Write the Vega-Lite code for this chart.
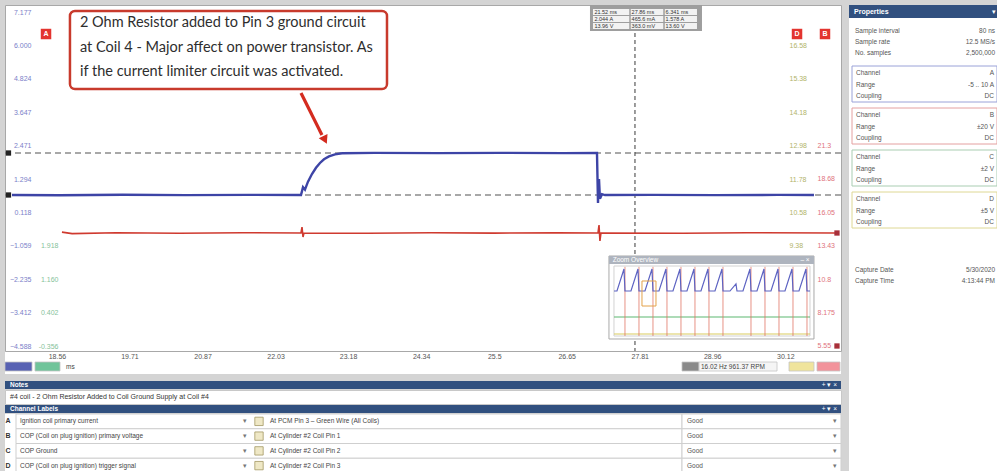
{
  "$schema": "https://vega.github.io/schema/vega-lite/v6.json",
  "background": "#d4d4d4",
  "padding": {"left": 3, "top": 4, "right": 0, "bottom": 0},
  "config": {"view": {"stroke": null}, "text": {"font": "Liberation Sans"}},
  "datasets": {
    "blue": [
      {"t": 17.846, "a": 0.73}, {"t": 18.6, "a": 0.72}, {"t": 19.6, "a": 0.74}, {"t": 20.6, "a": 0.725}, {"t": 21.6, "a": 0.735},
      {"t": 22.433, "a": 0.73}, {"t": 22.465, "a": 1.01}, {"t": 22.496, "a": 0.92}, {"t": 22.544, "a": 1.2}, {"t": 22.607, "a": 1.47},
      {"t": 22.671, "a": 1.69}, {"t": 22.734, "a": 1.86}, {"t": 22.798, "a": 1.99}, {"t": 22.877, "a": 2.09}, {"t": 22.973, "a": 2.16},
      {"t": 23.084, "a": 2.2}, {"t": 23.6, "a": 2.215}, {"t": 24.6, "a": 2.205}, {"t": 25.6, "a": 2.215}, {"t": 26.6, "a": 2.205},
      {"t": 27.131, "a": 2.21}, {"t": 27.147, "a": 0.45}, {"t": 27.163, "a": 1.29}, {"t": 27.178, "a": 0.6}, {"t": 27.21, "a": 0.76},
      {"t": 27.258, "a": 0.73}, {"t": 28.0, "a": 0.735}, {"t": 29.0, "a": 0.725}, {"t": 30.0, "a": 0.735}, {"t": 30.575, "a": 0.73}
    ],
    "red": [
      {"t": 18.639, "v": 14.5}, {"t": 18.8, "v": 14.38}, {"t": 19.5, "v": 14.45}, {"t": 20.5, "v": 14.41}, {"t": 21.5, "v": 14.45},
      {"t": 22.433, "v": 14.43}, {"t": 22.449, "v": 14.9}, {"t": 22.465, "v": 14.12}, {"t": 22.48, "v": 14.43}, {"t": 23.5, "v": 14.41},
      {"t": 24.5, "v": 14.45}, {"t": 25.5, "v": 14.42}, {"t": 26.5, "v": 14.44}, {"t": 27.147, "v": 14.43}, {"t": 27.163, "v": 15.06},
      {"t": 27.178, "v": 13.8}, {"t": 27.194, "v": 14.43}, {"t": 28.5, "v": 14.41}, {"t": 29.5, "v": 14.45}, {"t": 30.908, "v": 14.43}
    ],
    "rulers": [{"a": 2.21}, {"a": 0.731}],
    "pulse": [
      {"t": 27.4007, "a": -2.651},
      {"t": 27.4483, "a": -2.651}, {"t": 27.5594, "a": -1.876}, {"t": 27.5753, "a": -2.651},
      {"t": 27.6705, "a": -2.651}, {"t": 27.7816, "a": -1.876}, {"t": 27.7975, "a": -2.651},
      {"t": 27.8927, "a": -2.651}, {"t": 28.0038, "a": -1.876}, {"t": 28.0197, "a": -2.651},
      {"t": 28.1149, "a": -2.651}, {"t": 28.226, "a": -1.876}, {"t": 28.2419, "a": -2.651},
      {"t": 28.3372, "a": -2.651}, {"t": 28.4483, "a": -1.876}, {"t": 28.4641, "a": -2.651},
      {"t": 28.5594, "a": -2.651}, {"t": 28.6705, "a": -1.876}, {"t": 28.6864, "a": -2.651},
      {"t": 28.7816, "a": -2.651}, {"t": 28.8927, "a": -1.876}, {"t": 28.9086, "a": -2.651},
      {"t": 29.0038, "a": -2.651}, {"t": 29.1149, "a": -1.876}, {"t": 29.1308, "a": -2.651},
      {"t": 29.2419, "a": -2.651}, {"t": 29.3372, "a": -2.4}, {"t": 29.353, "a": -2.651},
      {"t": 29.4483, "a": -2.651}, {"t": 29.5594, "a": -1.876}, {"t": 29.5753, "a": -2.651},
      {"t": 29.6705, "a": -2.651}, {"t": 29.7816, "a": -1.876}, {"t": 29.7975, "a": -2.651},
      {"t": 29.8927, "a": -2.651}, {"t": 30.0038, "a": -1.876}, {"t": 30.0197, "a": -2.651},
      {"t": 30.1149, "a": -2.651}, {"t": 30.226, "a": -1.876}, {"t": 30.2419, "a": -2.651},
      {"t": 30.3372, "a": -2.651}, {"t": 30.4483, "a": -1.876}, {"t": 30.4642, "a": -2.651},
      {"t": 30.5118, "a": -2.651}
    ],
    "insetRules": [
      {"t": 27.5753, "a1": -1.8, "a2": -4.236}, {"t": 27.7975, "a1": -1.8, "a2": -4.236}, {"t": 28.0197, "a1": -1.8, "a2": -4.236},
      {"t": 28.2419, "a1": -1.8, "a2": -4.236}, {"t": 28.4641, "a1": -1.8, "a2": -4.236}, {"t": 28.6864, "a1": -1.8, "a2": -4.236},
      {"t": 28.9086, "a1": -1.8, "a2": -4.236}, {"t": 29.1308, "a1": -1.8, "a2": -4.236}, {"t": 29.5753, "a1": -1.8, "a2": -4.236},
      {"t": 29.7975, "a1": -1.8, "a2": -4.236}, {"t": 30.0197, "a1": -1.8, "a2": -4.236}, {"t": 30.2419, "a1": -1.8, "a2": -4.236},
      {"t": 30.4642, "a1": -1.8, "a2": -4.236}
    ],
    "insetLines": [
      {"s": "C", "t": 27.4007, "a": -3.567}, {"s": "C", "t": 30.5118, "a": -3.567},
      {"s": "D", "t": 27.4007, "a": -4.165}, {"s": "D", "t": 30.5118, "a": -4.165}
    ],
    "xticks": [{"t": 18.56}, {"t": 19.71}, {"t": 20.87}, {"t": 22.03}, {"t": 23.18}, {"t": 24.34}, {"t": 25.5}, {"t": 26.65}, {"t": 27.81}, {"t": 28.96}, {"t": 30.12}],
    "readout": [
      {"t": 27.09, "a": 7.177, "txt": "21.52 ms"}, {"t": 27.68, "a": 7.177, "txt": "27.86 ms"}, {"t": 28.22, "a": 7.177, "txt": "6.341 ms"},
      {"t": 27.09, "a": 6.93, "txt": "2.044 A"}, {"t": 27.68, "a": 6.93, "txt": "465.6 mA"}, {"t": 28.22, "a": 6.93, "txt": "1.578 A"},
      {"t": 27.09, "a": 6.684, "txt": "13.96 V"}, {"t": 27.68, "a": 6.684, "txt": "363.0 mV"}, {"t": 28.22, "a": 6.684, "txt": "13.60 V"}
    ],
    "labels": [
      {"ch": "A", "desc": "Ignition coil primary current", "loc": "At PCM Pin 3 – Green Wire (All Coils)", "status": "Good"},
      {"ch": "B", "desc": "COP (Coil on plug ignition) primary voltage", "loc": "At Cylinder #2 Coil Pin 1", "status": "Good"},
      {"ch": "C", "desc": "COP Ground", "loc": "At Cylinder #2 Coil Pin 2", "status": "Good"},
      {"ch": "D", "desc": "COP (Coil on plug ignition) trigger signal", "loc": "At Cylinder #2 Coil Pin 3", "status": "Good"}
    ],
    "props": [
      {"g": "sum", "k": "Sample interval", "v": "80 ns"},
      {"g": "sum", "k": "Sample rate", "v": "12.5 MS/s"},
      {"g": "sum", "k": "No. samples", "v": "2,500,000"},
      {"g": "A", "k": "Channel", "v": "A"}, {"g": "A", "k": "Range", "v": "-5 .. 10 A"}, {"g": "A", "k": "Coupling", "v": "DC"},
      {"g": "B", "k": "Channel", "v": "B"}, {"g": "B", "k": "Range", "v": "±20 V"}, {"g": "B", "k": "Coupling", "v": "DC"},
      {"g": "C", "k": "Channel", "v": "C"}, {"g": "C", "k": "Range", "v": "±2 V"}, {"g": "C", "k": "Coupling", "v": "DC"},
      {"g": "D", "k": "Channel", "v": "D"}, {"g": "D", "k": "Range", "v": "±5 V"}, {"g": "D", "k": "Coupling", "v": "DC"},
      {"g": "cap", "k": "Capture Date", "v": "5/30/2020"},
      {"g": "cap", "k": "Capture Time", "v": "4:13:44 PM"}
    ],
    "strip": [
      {"item": "A", "row": "btn", "c1": 0, "c2": 1},
      {"item": "C", "row": "btn", "c1": 2, "c2": 3},
      {"item": "G", "row": "btn", "c1": 5, "c2": 6},
      {"item": "R", "row": "btn", "c1": 6, "c2": 7},
      {"item": "D", "row": "btn", "c1": 8, "c2": 9},
      {"item": "B", "row": "btn", "c1": 10, "c2": 11}
    ]
  },
  "spacing": 6,
  "resolve": {"scale": {"color": "independent"}},
  "hconcat": [
    {
      "spacing": 7,
      "vconcat": [
        {
          "spacing": 0,
          "vconcat": [
            {
              "width": 836, "height": 346,
              "view": {"fill": "white", "stroke": "#a8a8a8"},
              "resolve": {"scale": {"y": "independent"}, "axis": {"y": "independent"}},
              "layer": [
                {
                  "data": {"name": "rulers"},
                  "mark": {"type": "rule", "strokeDash": [6, 4], "color": "#8c8c8c", "strokeWidth": 1.3},
                  "encoding": {
                    "y": {"field": "a", "type": "quantitative", "scale": {"domain": [-4.764, 7.424], "nice": false, "zero": false},
                      "axis": {"orient": "left", "offset": -53, "values": [-4.588, -3.41153, -2.23506, -1.05859],
                        "labelExpr": "['-0.356','0.402','1.160','1.918'][round((datum.value + 4.588) / 1.17647)]",
                        "labelColor": "#86c29a", "labelFontSize": 7, "labelFont": "Liberation Sans", "domain": false, "ticks": false, "tickSize": 0,
                        "labelPadding": 0, "grid": false, "title": null, "labelFlush": false, "labelOverlap": false}}
                  }
                },
                {
                  "data": {"values": [{"t": 27.734}]},
                  "mark": {"type": "rule", "strokeDash": [4, 3], "color": "#3a3a3a", "strokeWidth": 1},
                  "encoding": {"x": {"field": "t", "type": "quantitative", "scale": {"domain": [17.735, 31.004], "nice": false, "zero": false}, "axis": null}}
                },
                {
                  "data": {"name": "red"},
                  "mark": {"type": "line", "color": "#cf3a2f", "strokeWidth": 1.6},
                  "encoding": {
                    "x": {"field": "t", "type": "quantitative", "scale": {"domain": [17.735, 31.004], "nice": false, "zero": false}, "axis": null},
                    "y": {"field": "v", "type": "quantitative", "scale": {"domain": [5.156, 32.35], "nice": false, "zero": false},
                      "axis": {"orient": "right", "offset": -24, "values": [5.55, 8.175, 10.8, 13.425, 16.05, 18.675, 21.3],
                        "labelExpr": "format(datum.value, '.4~r')",
                        "labelColor": "#e0737c", "labelFontSize": 7, "labelFont": "Liberation Sans", "domain": false, "ticks": false, "tickSize": 0,
                        "labelPadding": 0, "grid": false, "title": null, "labelFlush": false, "labelOverlap": false}}
                  }
                },
                {
                  "data": {"name": "blue"},
                  "mark": {"type": "line", "color": "#3d44a6", "strokeWidth": 2.4},
                  "encoding": {
                    "x": {"field": "t", "type": "quantitative", "scale": {"domain": [17.735, 31.004], "nice": false, "zero": false}, "axis": null},
                    "y": {"field": "a", "type": "quantitative", "scale": {"domain": [-4.764, 7.424], "nice": false, "zero": false},
                      "axis": {"orient": "left", "offset": -26,
                        "values": [-4.588, -3.41153, -2.23506, -1.05859, 0.11788, 1.29435, 2.47082, 3.64729, 4.82376, 6.00023, 7.1767],
                        "labelExpr": "format(datum.value, '.3f')",
                        "labelColor": "#7b80c9", "labelFontSize": 7, "labelFont": "Liberation Sans", "domain": false, "ticks": false, "tickSize": 0,
                        "labelPadding": 0, "grid": false, "title": null, "labelFlush": false, "labelOverlap": false}}
                  }
                },
                {
                  "data": {"values": [{"t1": 18.766, "t2": 23.798, "a1": 7.212, "a2": 4.465}]},
                  "mark": {"type": "rect", "fill": "white", "stroke": "#c83a2c", "strokeWidth": 2.5, "cornerRadius": 5},
                  "encoding": {
                    "x": {"field": "t1", "type": "quantitative", "scale": {"domain": [17.735, 31.004], "nice": false, "zero": false}, "axis": null},
                    "x2": {"field": "t2"},
                    "y": {"field": "a1", "type": "quantitative", "scale": {"domain": [-4.764, 7.424], "nice": false, "zero": false},
                      "axis": {"orient": "right", "offset": -52, "values": [-1.05859, 0.11788, 1.29435, 2.47082, 3.64729, 4.82376, 6.00023],
                        "labelExpr": "['9.38','10.58','11.78','12.98','14.18','15.38','16.58'][round((datum.value + 4.588) / 1.17647) - 3]",
                        "labelColor": "#b2b46a", "labelFontSize": 7, "labelFont": "Liberation Sans", "domain": false, "ticks": false, "tickSize": 0,
                        "labelPadding": 0, "grid": false, "title": null, "labelFlush": false, "labelOverlap": false}},
                    "y2": {"field": "a2"}
                  }
                },
                {
                  "data": {"values": [
                    {"t": 18.925, "a": 6.79, "line": "2 Ohm Resistor added to Pin 3 ground circuit"},
                    {"t": 18.925, "a": 5.909, "line": "at Coil 4 - Major affect on power transistor. As"},
                    {"t": 18.925, "a": 5.063, "line": "if the current limiter circuit was activated."}
                  ]},
                  "mark": {"type": "text", "align": "left", "font": "Lato", "fontSize": 14.5, "color": "#2e2e2e"},
                  "encoding": {
                    "x": {"field": "t", "type": "quantitative", "scale": {"domain": [17.735, 31.004], "nice": false, "zero": false}, "axis": null},
                    "y": {"field": "a", "type": "quantitative", "scale": {"domain": [-4.764, 7.424], "nice": false, "zero": false}, "axis": null},
                    "text": {"field": "line"}
                  }
                },
                {
                  "data": {"values": [{"t1": 22.433, "a1": 4.324, "t2": 22.766, "a2": 2.844}]},
                  "mark": {"type": "rule", "color": "#d42b1f", "strokeWidth": 3.2},
                  "encoding": {
                    "x": {"field": "t1", "type": "quantitative", "scale": {"domain": [17.735, 31.004], "nice": false, "zero": false}, "axis": null},
                    "x2": {"field": "t2"},
                    "y": {"field": "a1", "type": "quantitative", "scale": {"domain": [-4.764, 7.424], "nice": false, "zero": false}, "axis": null},
                    "y2": {"field": "a2"}
                  }
                },
                {
                  "data": {"values": [{"t": 22.8137, "a": 2.668}]},
                  "mark": {"type": "point", "shape": "triangle-up", "filled": true, "color": "#d42b1f", "opacity": 1, "size": 95, "angle": 154},
                  "encoding": {
                    "x": {"field": "t", "type": "quantitative", "scale": {"domain": [17.735, 31.004], "nice": false, "zero": false}, "axis": null},
                    "y": {"field": "a", "type": "quantitative", "scale": {"domain": [-4.764, 7.424], "nice": false, "zero": false}, "axis": null}
                  }
                },
                {
                  "data": {"values": [{"t1": 27.0198, "t2": 28.7975, "a1": 7.424, "a2": 6.508}]},
                  "mark": {"type": "rect", "fill": "#9e9e9e"},
                  "encoding": {
                    "x": {"field": "t1", "type": "quantitative", "scale": {"domain": [17.735, 31.004], "nice": false, "zero": false}, "axis": null},
                    "x2": {"field": "t2"},
                    "y": {"field": "a1", "type": "quantitative", "scale": {"domain": [-4.764, 7.424], "nice": false, "zero": false}, "axis": null},
                    "y2": {"field": "a2"}
                  }
                },
                {
                  "data": {"values": [
                    {"t1": 27.0674, "t2": 28.7181, "a1": 7.283, "a2": 7.071},
                    {"t1": 27.0674, "t2": 28.7181, "a1": 7.036, "a2": 6.825},
                    {"t1": 27.0674, "t2": 28.7181, "a1": 6.79, "a2": 6.578}
                  ]},
                  "mark": {"type": "rect", "fill": "#f2f2f2"},
                  "encoding": {
                    "x": {"field": "t1", "type": "quantitative", "scale": {"domain": [17.735, 31.004], "nice": false, "zero": false}, "axis": null},
                    "x2": {"field": "t2"},
                    "y": {"field": "a1", "type": "quantitative", "scale": {"domain": [-4.764, 7.424], "nice": false, "zero": false}, "axis": null},
                    "y2": {"field": "a2"}
                  }
                },
                {
                  "data": {"values": [{"t": 27.655, "a1": 7.3, "a2": 6.56}, {"t": 28.195, "a1": 7.3, "a2": 6.56}]},
                  "mark": {"type": "rule", "color": "#9e9e9e", "strokeWidth": 1.5},
                  "encoding": {
                    "x": {"field": "t", "type": "quantitative", "scale": {"domain": [17.735, 31.004], "nice": false, "zero": false}, "axis": null},
                    "y": {"field": "a1", "type": "quantitative", "scale": {"domain": [-4.764, 7.424], "nice": false, "zero": false}, "axis": null},
                    "y2": {"field": "a2"}
                  }
                },
                {
                  "data": {"name": "readout"},
                  "mark": {"type": "text", "align": "left", "fontSize": 5.5, "color": "#333333"},
                  "encoding": {
                    "x": {"field": "t", "type": "quantitative", "scale": {"domain": [17.735, 31.004], "nice": false, "zero": false}, "axis": null},
                    "y": {"field": "a", "type": "quantitative", "scale": {"domain": [-4.764, 7.424], "nice": false, "zero": false}, "axis": null},
                    "text": {"field": "txt"}
                  }
                },
                {
                  "data": {"values": [{"t1": 27.321, "t2": 30.575, "a1": -1.418, "a2": -4.341}]},
                  "mark": {"type": "rect", "fill": "white", "stroke": "#a9a9a9", "strokeWidth": 1},
                  "encoding": {
                    "x": {"field": "t1", "type": "quantitative", "scale": {"domain": [17.735, 31.004], "nice": false, "zero": false}, "axis": null},
                    "x2": {"field": "t2"},
                    "y": {"field": "a1", "type": "quantitative", "scale": {"domain": [-4.764, 7.424], "nice": false, "zero": false}, "axis": null},
                    "y2": {"field": "a2"}
                  }
                },
                {
                  "data": {"values": [{"t1": 27.321, "t2": 30.575, "a1": -1.418, "a2": -1.7}]},
                  "mark": {"type": "rect", "fill": "#aeb4be"},
                  "encoding": {
                    "x": {"field": "t1", "type": "quantitative", "scale": {"domain": [17.735, 31.004], "nice": false, "zero": false}, "axis": null},
                    "x2": {"field": "t2"},
                    "y": {"field": "a1", "type": "quantitative", "scale": {"domain": [-4.764, 7.424], "nice": false, "zero": false}, "axis": null},
                    "y2": {"field": "a2"}
                  }
                },
                {
                  "data": {"values": [{"t": 27.38, "a": -1.559, "txt": "Zoom Overview"}, {"t": 30.36, "a": -1.559, "txt": "–  ×"}]},
                  "mark": {"type": "text", "align": "left", "fontSize": 6.5, "color": "white"},
                  "encoding": {
                    "x": {"field": "t", "type": "quantitative", "scale": {"domain": [17.735, 31.004], "nice": false, "zero": false}, "axis": null},
                    "y": {"field": "a", "type": "quantitative", "scale": {"domain": [-4.764, 7.424], "nice": false, "zero": false}, "axis": null},
                    "text": {"field": "txt"}
                  }
                },
                {
                  "data": {"values": [{"t1": 27.4007, "t2": 30.5118, "a1": -1.77, "a2": -4.236}]},
                  "mark": {"type": "rect", "fill": null, "stroke": "#d2d2d2", "strokeWidth": 1},
                  "encoding": {
                    "x": {"field": "t1", "type": "quantitative", "scale": {"domain": [17.735, 31.004], "nice": false, "zero": false}, "axis": null},
                    "x2": {"field": "t2"},
                    "y": {"field": "a1", "type": "quantitative", "scale": {"domain": [-4.764, 7.424], "nice": false, "zero": false}, "axis": null},
                    "y2": {"field": "a2"}
                  }
                },
                {
                  "data": {"name": "insetLines"},
                  "transform": [{"filter": "datum.s == 'C'"}],
                  "mark": {"type": "line", "strokeWidth": 1.2, "color": "#5cb870"},
                  "encoding": {
                    "x": {"field": "t", "type": "quantitative", "scale": {"domain": [17.735, 31.004], "nice": false, "zero": false}, "axis": null},
                    "y": {"field": "a", "type": "quantitative", "scale": {"domain": [-4.764, 7.424], "nice": false, "zero": false}, "axis": null}
                  }
                },
                {
                  "data": {"name": "insetLines"},
                  "transform": [{"filter": "datum.s == 'D'"}],
                  "mark": {"type": "line", "strokeWidth": 1.2, "color": "#d9cb5e"},
                  "encoding": {
                    "x": {"field": "t", "type": "quantitative", "scale": {"domain": [17.735, 31.004], "nice": false, "zero": false}, "axis": null},
                    "y": {"field": "a", "type": "quantitative", "scale": {"domain": [-4.764, 7.424], "nice": false, "zero": false}, "axis": null}
                  }
                },
                {
                  "data": {"name": "insetRules"},
                  "mark": {"type": "rule", "color": "#e07060", "strokeWidth": 0.9, "opacity": 0.85},
                  "encoding": {
                    "x": {"field": "t", "type": "quantitative", "scale": {"domain": [17.735, 31.004], "nice": false, "zero": false}, "axis": null},
                    "y": {"field": "a1", "type": "quantitative", "scale": {"domain": [-4.764, 7.424], "nice": false, "zero": false}, "axis": null},
                    "y2": {"field": "a2"}
                  }
                },
                {
                  "data": {"name": "pulse"},
                  "mark": {"type": "line", "color": "#5d63c2", "strokeWidth": 1.2},
                  "encoding": {
                    "x": {"field": "t", "type": "quantitative", "scale": {"domain": [17.735, 31.004], "nice": false, "zero": false}, "axis": null},
                    "y": {"field": "a", "type": "quantitative", "scale": {"domain": [-4.764, 7.424], "nice": false, "zero": false}, "axis": null}
                  }
                },
                {
                  "data": {"values": [{"t1": 27.8451, "t2": 28.0673, "a1": -2.298, "a2": -3.179}]},
                  "mark": {"type": "rect", "fill": null, "stroke": "#e3a24a", "strokeWidth": 1},
                  "encoding": {
                    "x": {"field": "t1", "type": "quantitative", "scale": {"domain": [17.735, 31.004], "nice": false, "zero": false}, "axis": null},
                    "x2": {"field": "t2"},
                    "y": {"field": "a1", "type": "quantitative", "scale": {"domain": [-4.764, 7.424], "nice": false, "zero": false}, "axis": null},
                    "y2": {"field": "a2"}
                  }
                },
                {
                  "data": {"values": [{"t": 18.386, "a": 6.402, "ch": "A"}, {"t": 30.306, "a": 6.402, "ch": "D"}, {"t": 30.75, "a": 6.402, "ch": "B"}]},
                  "layer": [
                    {"mark": {"type": "point", "shape": "square", "filled": true, "color": "#e3342f", "opacity": 1, "size": 110}},
                    {"mark": {"type": "text", "color": "white", "fontSize": 7, "fontWeight": "bold"}, "encoding": {"text": {"field": "ch"}}}
                  ],
                  "encoding": {
                    "x": {"field": "t", "type": "quantitative", "scale": {"domain": [17.735, 31.004], "nice": false, "zero": false}, "axis": null},
                    "y": {"field": "a", "type": "quantitative", "scale": {"domain": [-4.764, 7.424], "nice": false, "zero": false}, "axis": null}
                  }
                },
                {
                  "data": {"values": [{"t": 17.79, "a": 2.21}, {"t": 17.79, "a": 0.731}]},
                  "mark": {"type": "point", "shape": "square", "filled": true, "color": "#222222", "opacity": 1, "size": 28},
                  "encoding": {
                    "x": {"field": "t", "type": "quantitative", "scale": {"domain": [17.735, 31.004], "nice": false, "zero": false}, "axis": null},
                    "y": {"field": "a", "type": "quantitative", "scale": {"domain": [-4.764, 7.424], "nice": false, "zero": false}, "axis": null}
                  }
                },
                {
                  "data": {"values": [{"t": 30.94, "v": 14.43}, {"t": 30.94, "v": 5.55}]},
                  "mark": {"type": "point", "shape": "square", "filled": true, "color": "#a8303a", "opacity": 1, "size": 28},
                  "encoding": {
                    "x": {"field": "t", "type": "quantitative", "scale": {"domain": [17.735, 31.004], "nice": false, "zero": false}, "axis": null},
                    "y": {"field": "v", "type": "quantitative", "scale": {"domain": [5.156, 32.35], "nice": false, "zero": false}, "axis": null}
                  }
                }
              ]
            },
            {
              "width": 836, "height": 22,
              "view": {"fill": "white", "stroke": null},
              "resolve": {"scale": {"x": "independent"}, "axis": {"x": "independent"}},
              "layer": [
                {
                  "data": {"name": "xticks"},
                  "mark": {"type": "point", "opacity": 0},
                  "encoding": {
                    "x": {"field": "t", "type": "quantitative", "scale": {"domain": [17.735, 31.004], "nice": false, "zero": false},
                      "axis": {"orient": "top", "offset": -7, "values": [18.56, 19.71, 20.87, 22.03, 23.18, 24.34, 25.5, 26.65, 27.81, 28.96, 30.12],
                        "labelExpr": "format(datum.value, '.2~f')", "labelFontSize": 7, "labelColor": "#555555", "labelFont": "Liberation Sans",
                        "domain": false, "ticks": false, "tickSize": 0, "labelPadding": 0, "grid": false, "title": null, "labelFlush": false, "labelOverlap": false}}
                  }
                },
                {
                  "data": {"name": "strip"},
                  "mark": {"type": "rect", "stroke": "#c4c4c4", "strokeWidth": 0.8},
                  "encoding": {
                    "x": {"field": "c1", "type": "quantitative", "scale": {"domain": [0, 1, 2, 3, 4, 5, 6, 7, 8, 9, 10, 11], "range": [0, 27, 30, 55, 59, 677, 694, 772, 784, 809, 812, 835], "nice": false, "zero": false}, "axis": null},
                    "x2": {"field": "c2"},
                    "y": {"field": "row", "type": "nominal", "scale": {"type": "band", "domain": ["btn"], "range": [10, 19]}, "axis": null},
                    "color": {"field": "item", "type": "nominal", "scale": {"domain": ["A", "C", "G", "R", "D", "B"], "range": ["#5862b3", "#70c49a", "#8a8a8a", "#f5f5f5", "#f0e49c", "#f2939b"]}, "legend": null}
                  }
                },
                {
                  "data": {"values": [{"c": 4, "row": "btn", "txt": "ms"}, {"c": 6, "row": "btn", "txt": "16.02 Hz      961.37 RPM"}]},
                  "mark": {"type": "text", "align": "left", "dx": 2, "fontSize": 6.5, "color": "#444444"},
                  "encoding": {
                    "x": {"field": "c", "type": "quantitative", "scale": {"domain": [0, 1, 2, 3, 4, 5, 6, 7, 8, 9, 10, 11], "range": [0, 27, 30, 55, 59, 677, 694, 772, 784, 809, 812, 835], "nice": false, "zero": false}, "axis": null},
                    "y": {"field": "row", "type": "nominal", "scale": {"type": "band", "domain": ["btn"], "range": [10, 19]}, "axis": null},
                    "text": {"field": "txt"}
                  }
                }
              ]
            }
          ]
        },
        {
          "spacing": 0,
          "vconcat": [
            {
              "width": 836, "height": 8,
              "view": {"fill": "#31507f", "stroke": null},
              "layer": [
                {"data": {"values": [{"txt": "Notes"}]}, "mark": {"type": "text", "align": "left", "fontSize": 6.5, "fontWeight": "bold", "color": "white"},
                  "encoding": {"x": {"datum": 0, "type": "quantitative", "scale": {"domain": [0, 1], "range": [5, 832], "nice": false, "zero": false}, "axis": null}, "text": {"field": "txt"}}},
                {"data": {"values": [{"txt": "+ ▾ ×"}]}, "mark": {"type": "text", "align": "right", "fontSize": 6.5, "color": "white"},
                  "encoding": {"x": {"datum": 1, "type": "quantitative", "scale": {"domain": [0, 1], "range": [5, 832], "nice": false, "zero": false}, "axis": null}, "text": {"field": "txt"}}}
              ]
            },
            {
              "width": 836, "height": 14,
              "view": {"fill": "white", "stroke": "#c8c8c8"},
              "data": {"values": [{"txt": "#4 coil - 2 Ohm Resistor Added to Coil Ground Supply at Coil #4"}]},
              "mark": {"type": "text", "align": "left", "fontSize": 7, "color": "#333333"},
              "encoding": {"x": {"datum": 0, "type": "quantitative", "scale": {"domain": [0, 1], "range": [5, 832], "nice": false, "zero": false}, "axis": null}, "text": {"field": "txt"}}
            },
            {
              "width": 836, "height": 8,
              "view": {"fill": "#31507f", "stroke": null},
              "layer": [
                {"data": {"values": [{"txt": "Channel Labels"}]}, "mark": {"type": "text", "align": "left", "fontSize": 6.5, "fontWeight": "bold", "color": "white"},
                  "encoding": {"x": {"datum": 0, "type": "quantitative", "scale": {"domain": [0, 1], "range": [5, 832], "nice": false, "zero": false}, "axis": null}, "text": {"field": "txt"}}},
                {"data": {"values": [{"txt": "+ ▾ ×"}]}, "mark": {"type": "text", "align": "right", "fontSize": 6.5, "color": "white"},
                  "encoding": {"x": {"datum": 1, "type": "quantitative", "scale": {"domain": [0, 1], "range": [5, 832], "nice": false, "zero": false}, "axis": null}, "text": {"field": "txt"}}}
              ]
            },
            {
              "width": 836, "height": 59,
              "view": {"fill": "white", "stroke": null},
              "data": {"name": "labels"},
              "encoding": {
                "y": {"field": "ch", "type": "nominal", "scale": {"type": "band", "domain": ["A", "B", "C", "D"], "paddingInner": 0, "paddingOuter": 0}, "axis": null}
              },
              "layer": [
                {"mark": {"type": "rect", "fill": "white", "stroke": "#cfcfcf", "strokeWidth": 1},
                  "encoding": {"x": {"datum": 1, "type": "quantitative", "scale": {"domain": [0, 1, 2, 3, 4, 5, 6, 7, 8, 9, 10], "range": [3, 11, 15, 240, 248, 260, 265, 677, 682, 830, 836], "nice": false, "zero": false}, "axis": null}, "x2": {"datum": 7}}},
                {"mark": {"type": "rect", "fill": "white", "stroke": "#cfcfcf", "strokeWidth": 1},
                  "encoding": {"x": {"datum": 7, "type": "quantitative"}, "x2": {"datum": 10}}},
                {"mark": {"type": "text", "align": "center", "fontSize": 7, "fontWeight": "bold", "color": "#333333"},
                  "encoding": {"x": {"datum": 0, "type": "quantitative"}, "text": {"field": "ch"}}},
                {"mark": {"type": "text", "align": "left", "fontSize": 6.5, "color": "#444444"},
                  "encoding": {"x": {"datum": 2, "type": "quantitative"}, "text": {"field": "desc"}}},
                {"mark": {"type": "text", "align": "center", "fontSize": 6.5, "color": "#777777", "text": "▾"},
                  "encoding": {"x": {"datum": 3, "type": "quantitative"}}},
                {"mark": {"type": "point", "shape": "square", "filled": true, "opacity": 1, "size": 70, "color": "#efe8c6", "stroke": "#a39863", "strokeWidth": 0.8},
                  "encoding": {"x": {"datum": 4.5, "type": "quantitative"}}},
                {"mark": {"type": "text", "align": "left", "fontSize": 6.5, "color": "#444444"},
                  "encoding": {"x": {"datum": 6, "type": "quantitative"}, "text": {"field": "loc"}}},
                {"mark": {"type": "text", "align": "left", "fontSize": 6.5, "color": "#555555"},
                  "encoding": {"x": {"datum": 8, "type": "quantitative"}, "text": {"field": "status"}}},
                {"mark": {"type": "text", "align": "center", "fontSize": 6.5, "color": "#777777", "text": "▾"},
                  "encoding": {"x": {"datum": 9, "type": "quantitative"}}}
              ]
            }
          ]
        }
      ]
    },
    {
      "spacing": 0,
      "vconcat": [
        {
          "width": 152, "height": 13,
          "view": {"fill": "#31507f", "stroke": null},
          "layer": [
            {"data": {"values": [{"txt": "Properties"}]}, "mark": {"type": "text", "align": "left", "fontSize": 7, "fontWeight": "bold", "color": "white"},
              "encoding": {"x": {"datum": 0, "type": "quantitative", "scale": {"domain": [0, 1], "range": [5, 147], "nice": false, "zero": false}, "axis": null}, "text": {"field": "txt"}}},
            {"data": {"values": [{"txt": "▾"}]}, "mark": {"type": "text", "align": "right", "fontSize": 7, "color": "white"},
              "encoding": {"x": {"datum": 1, "type": "quantitative", "scale": {"domain": [0, 1], "range": [5, 147], "nice": false, "zero": false}, "axis": null}, "text": {"field": "txt"}}}
          ]
        },
        {
          "width": 152, "height": 46,
          "view": {"fill": "white", "stroke": null},
          "data": {"name": "props"},
          "transform": [{"filter": "datum.g == 'sum'"}],
          "encoding": {"y": {"field": "k", "type": "nominal", "scale": {"type": "point", "domain": ["Sample interval", "Sample rate", "No. samples"], "range": [7.5, 40.5]}, "axis": null}},
          "layer": [
            {"mark": {"type": "text", "align": "left", "fontSize": 6.5, "color": "#555555"},
              "encoding": {"x": {"datum": 0, "type": "quantitative", "scale": {"domain": [0, 1], "range": [6, 146], "nice": false, "zero": false}, "axis": null}, "text": {"field": "k"}}},
            {"mark": {"type": "text", "align": "right", "fontSize": 6.5, "color": "#555555"},
              "encoding": {"x": {"datum": 1, "type": "quantitative"}, "text": {"field": "v"}}}
          ]
        },
        {
          "spacing": 0,
          "vconcat": [
            {
              "width": 152, "height": 42, "view": {"fill": "white", "stroke": null},
              "resolve": {"scale": {"y": "independent"}},
              "layer": [
                {"data": {"values": [{}]}, "mark": {"type": "rect", "fill": "white", "stroke": "#9aa2d8", "strokeWidth": 1},
                  "encoding": {"x": {"datum": 0, "type": "quantitative", "scale": {"domain": [0, 1], "range": [3, 148], "nice": false, "zero": false}, "axis": null}, "x2": {"datum": 1},
                    "y": {"datum": 0, "type": "quantitative", "scale": {"domain": [0, 1], "range": [2, 38], "nice": false, "zero": false}, "axis": null}, "y2": {"datum": 1}}},
                {"data": {"name": "props"}, "transform": [{"filter": "datum.g == 'A'"}],
                  "encoding": {"y": {"field": "k", "type": "nominal", "scale": {"type": "point", "domain": ["Channel", "Range", "Coupling"], "range": [3.5, 37.5]}, "axis": null}},
                  "layer": [
                    {"mark": {"type": "text", "align": "left", "fontSize": 6.5, "color": "#555555", "dx": 4}, "encoding": {"x": {"datum": 0, "type": "quantitative"}, "text": {"field": "k"}}},
                    {"mark": {"type": "text", "align": "right", "fontSize": 6.5, "color": "#555555", "dx": -3}, "encoding": {"x": {"datum": 1, "type": "quantitative"}, "text": {"field": "v"}}}
                  ]}
              ]
            },
            {
              "width": 152, "height": 42, "view": {"fill": "white", "stroke": null},
              "resolve": {"scale": {"y": "independent"}},
              "layer": [
                {"data": {"values": [{}]}, "mark": {"type": "rect", "fill": "white", "stroke": "#e4a0a0", "strokeWidth": 1},
                  "encoding": {"x": {"datum": 0, "type": "quantitative", "scale": {"domain": [0, 1], "range": [3, 148], "nice": false, "zero": false}, "axis": null}, "x2": {"datum": 1},
                    "y": {"datum": 0, "type": "quantitative", "scale": {"domain": [0, 1], "range": [2, 38], "nice": false, "zero": false}, "axis": null}, "y2": {"datum": 1}}},
                {"data": {"name": "props"}, "transform": [{"filter": "datum.g == 'B'"}],
                  "encoding": {"y": {"field": "k", "type": "nominal", "scale": {"type": "point", "domain": ["Channel", "Range", "Coupling"], "range": [3.5, 37.5]}, "axis": null}},
                  "layer": [
                    {"mark": {"type": "text", "align": "left", "fontSize": 6.5, "color": "#555555", "dx": 4}, "encoding": {"x": {"datum": 0, "type": "quantitative"}, "text": {"field": "k"}}},
                    {"mark": {"type": "text", "align": "right", "fontSize": 6.5, "color": "#555555", "dx": -3}, "encoding": {"x": {"datum": 1, "type": "quantitative"}, "text": {"field": "v"}}}
                  ]}
              ]
            },
            {
              "width": 152, "height": 42, "view": {"fill": "white", "stroke": null},
              "resolve": {"scale": {"y": "independent"}},
              "layer": [
                {"data": {"values": [{}]}, "mark": {"type": "rect", "fill": "white", "stroke": "#a9cdb2", "strokeWidth": 1},
                  "encoding": {"x": {"datum": 0, "type": "quantitative", "scale": {"domain": [0, 1], "range": [3, 148], "nice": false, "zero": false}, "axis": null}, "x2": {"datum": 1},
                    "y": {"datum": 0, "type": "quantitative", "scale": {"domain": [0, 1], "range": [2, 38], "nice": false, "zero": false}, "axis": null}, "y2": {"datum": 1}}},
                {"data": {"name": "props"}, "transform": [{"filter": "datum.g == 'C'"}],
                  "encoding": {"y": {"field": "k", "type": "nominal", "scale": {"type": "point", "domain": ["Channel", "Range", "Coupling"], "range": [3.5, 37.5]}, "axis": null}},
                  "layer": [
                    {"mark": {"type": "text", "align": "left", "fontSize": 6.5, "color": "#555555", "dx": 4}, "encoding": {"x": {"datum": 0, "type": "quantitative"}, "text": {"field": "k"}}},
                    {"mark": {"type": "text", "align": "right", "fontSize": 6.5, "color": "#555555", "dx": -3}, "encoding": {"x": {"datum": 1, "type": "quantitative"}, "text": {"field": "v"}}}
                  ]}
              ]
            },
            {
              "width": 152, "height": 42, "view": {"fill": "white", "stroke": null},
              "resolve": {"scale": {"y": "independent"}},
              "layer": [
                {"data": {"values": [{}]}, "mark": {"type": "rect", "fill": "white", "stroke": "#ded894", "strokeWidth": 1},
                  "encoding": {"x": {"datum": 0, "type": "quantitative", "scale": {"domain": [0, 1], "range": [3, 148], "nice": false, "zero": false}, "axis": null}, "x2": {"datum": 1},
                    "y": {"datum": 0, "type": "quantitative", "scale": {"domain": [0, 1], "range": [2, 38], "nice": false, "zero": false}, "axis": null}, "y2": {"datum": 1}}},
                {"data": {"name": "props"}, "transform": [{"filter": "datum.g == 'D'"}],
                  "encoding": {"y": {"field": "k", "type": "nominal", "scale": {"type": "point", "domain": ["Channel", "Range", "Coupling"], "range": [3.5, 37.5]}, "axis": null}},
                  "layer": [
                    {"mark": {"type": "text", "align": "left", "fontSize": 6.5, "color": "#555555", "dx": 4}, "encoding": {"x": {"datum": 0, "type": "quantitative"}, "text": {"field": "k"}}},
                    {"mark": {"type": "text", "align": "right", "fontSize": 6.5, "color": "#555555", "dx": -3}, "encoding": {"x": {"datum": 1, "type": "quantitative"}, "text": {"field": "v"}}}
                  ]}
              ]
            }
          ]
        },
        {
          "width": 152, "height": 240,
          "view": {"fill": "white", "stroke": null},
          "data": {"name": "props"},
          "transform": [{"filter": "datum.g == 'cap'"}],
          "encoding": {"y": {"field": "k", "type": "nominal", "scale": {"type": "point", "domain": ["Capture Date", "Capture Time"], "range": [32.5, 54.5]}, "axis": null}},
          "layer": [
            {"mark": {"type": "text", "align": "left", "fontSize": 6.5, "color": "#555555"},
              "encoding": {"x": {"datum": 0, "type": "quantitative", "scale": {"domain": [0, 1], "range": [6, 146], "nice": false, "zero": false}, "axis": null}, "text": {"field": "k"}}},
            {"mark": {"type": "text", "align": "right", "fontSize": 6.5, "color": "#555555"},
              "encoding": {"x": {"datum": 1, "type": "quantitative"}, "text": {"field": "v"}}}
          ]
        }
      ]
    }
  ]
}
